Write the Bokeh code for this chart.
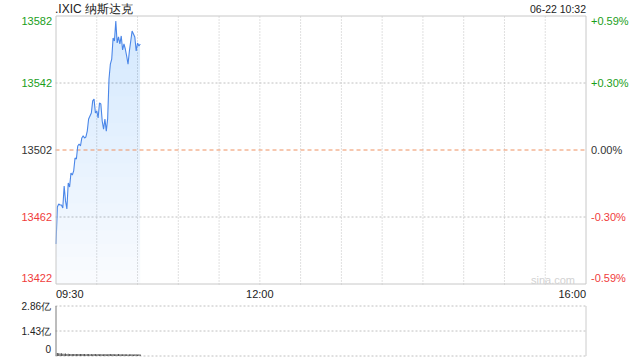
import numpy as np
from bokeh.plotting import figure
from bokeh.models import Range1d
from bokeh.core.properties import value
from bokeh.embed import file_html
from bokeh.resources import INLINE

# ---------------- data ----------------
title_text = ".IXIC 纳斯达克"
stamp_text = "06-22 10:32"
prev_close = 13502
minutes = list(range(63))  # minutes since 09:30
prices = [13445.9, 13468.0, 13469.8, 13469.2, 13469.2, 13467.4, 13480.5, 13471.6, 13466.8, 13482.3,
          13479.9, 13488.3, 13487.1, 13489.5, 13497.2, 13496.6, 13504.4, 13505.6, 13504.4, 13509.2,
          13510.4, 13509.2, 13509.8, 13513.3, 13520.5, 13522.3, 13524.1, 13531.3, 13532.4, 13524.1,
          13525.3, 13521.1, 13530.1, 13529.5, 13519.3, 13514.5, 13520.5, 13513.3, 13520.5, 13544.4,
          13553.3, 13556.3, 13568.9, 13567.1, 13579.0, 13565.9, 13569.5, 13565.3, 13570.1, 13561.7,
          13565.3, 13562.3, 13558.1, 13553.3, 13561.1, 13567.1, 13573.0, 13571.3, 13569.5, 13561.1,
          13565.9, 13564.1, 13565.3]
vol_minutes = list(range(62))
volumes = [0.17, 0.16, 0.15, 0.16, 0.13, 0.13, 0.14, 0.12, 0.13, 0.12,
           0.12, 0.11, 0.12, 0.11, 0.12, 0.11, 0.11, 0.12, 0.11, 0.11,
           0.11, 0.10, 0.11, 0.11, 0.10, 0.11, 0.10, 0.11, 0.11, 0.10,
           0.12, 0.10, 0.11, 0.10, 0.10, 0.11, 0.10, 0.10, 0.11, 0.11,
           0.10, 0.11, 0.10, 0.10, 0.10, 0.11, 0.10, 0.10, 0.10, 0.10,
           0.10, 0.10, 0.09, 0.10, 0.10, 0.10, 0.09, 0.10, 0.10, 0.09,
           0.10, 0.09]
price_ticks = [13582, 13542, 13502, 13462, 13422]
pct_labels = ["+0.59%", "+0.30%", "0.00%", "-0.30%", "-0.59%"]
tick_colors = ["#1a9e1a", "#1a9e1a", "#333333", "#f03c3c", "#f03c3c"]
time_ticks = [0, 150, 390]
time_labels = ["09:30", "12:00", "16:00"]
time_aligns = ["left", "center", "right"]
grid_minutes = list(range(30, 390, 30))
vol_max = 2.86
vol_ticks = [2.86, 1.43, 0]
vol_labels = ["2.86亿", "1.43亿", "0"]

FONT = value("Liberation Sans")
X0, X1 = 0, 390
Y0, Y1 = price_ticks[-1], price_ticks[0]
W, H = 640, 360
# pixel layout: main x 55..585, price ticks every 67 px (15.5 .. 283.5); volume 305..355
dx = (X1 - X0) / 530
dy = (price_ticks[0] - price_ticks[1]) / 67
vdy = vol_max / 50

p = figure(width=W, height=H, output_backend="svg", toolbar_location=None,
           x_range=Range1d(X0 - 55.5 * dx, X1 + 54.5 * dx),
           y_range=Range1d(Y0 - 76.5 * dy, Y1 + 15.5 * dy),
           x_axis_type=None, y_axis_type=None, min_border=0)
p.extra_y_ranges = {"vol": Range1d(-4.5 * vdy, vol_max + 305.5 * vdy)}
p.outline_line_color = None
p.background_fill_color = "white"
p.border_fill_color = "white"

GRID = "#c0c0c0"
hx0, hx1 = X0 - 0.5 * dx, X1 + 0.5 * dx
vy0, vy1 = Y0 - 0.5 * dy, Y1 + 0.5 * dy

# ---- main chart grid ----
n = len(grid_minutes)
p.segment(x0=grid_minutes, y0=[vy0] * n, x1=grid_minutes, y1=[vy1] * n,
          line_color=GRID, line_dash="1 2", line_width=1)
mid_ticks = [price_ticks[1], price_ticks[3]]
p.segment(x0=[hx0] * 2, y0=mid_ticks, x1=[hx1] * 2, y1=mid_ticks,
          line_color=GRID, line_dash="2 2", line_width=1)

# ---- gradient fill under line ----
pr = np.array(prices)
levels = np.linspace(Y0, Y1, 21)[:-1]
for i, L in enumerate(levels):
    p.varea(x=minutes, y1=np.maximum(pr, L), y2=np.full_like(pr, L),
            fill_color="#3a86ee", fill_alpha=(0.03 if i == 0 else 0.012))

# previous close
p.segment(x0=[hx0], y0=[prev_close], x1=[hx1], y1=[prev_close],
          line_color="#ee9060", line_dash="4 3", line_width=1)

p.line(minutes, prices, line_color="#4a86e8", line_width=1.1)

# frame box
p.quad(left=[X0], right=[X1], bottom=[Y0], top=[Y1], fill_color=None, line_color="#c8c8c8", line_width=1)

# ---- tick labels ----
label_y = list(price_ticks)
label_y[0] = price_ticks[0] - 4.5 * dy
label_y[-1] = price_ticks[-1] + 6.5 * dy
p.text(x=[X0 - 4 * dx] * 5, y=label_y, text=[str(t) for t in price_ticks],
       text_color=tick_colors, text_align="right", text_baseline="middle",
       text_font=FONT, text_font_size="11px")
p.text(x=[X1 + 5 * dx] * 5, y=label_y, text=pct_labels,
       text_color=tick_colors, text_align="left", text_baseline="middle",
       text_font=FONT, text_font_size="11px")
for t, lab, al in zip(time_ticks, time_labels, time_aligns):
    p.text(x=[t], y=[Y0 - 9.5 * dy], text=[lab], text_color="#222222", text_align=al,
           text_baseline="middle", text_font=FONT, text_font_size="11px")

p.text(x=[X0 - 1 * dx], y=[Y1 + 7.5 * dy], text=[title_text], text_color="#222222",
       text_align="left", text_baseline="middle", text_font=FONT, text_font_size="12px")
p.text(x=[X1], y=[Y1 + 7.5 * dy], text=[stamp_text], text_color="#222222",
       text_align="right", text_baseline="middle", text_font=FONT, text_font_size="10.5px")
p.text(x=[X1 - 11 * dx], y=[Y0 + 4.5 * dy], text=["sina.com"], text_color="#d2d2d2",
       text_align="right", text_baseline="middle", text_font=FONT, text_font_size="11px")

# ---- volume chart ----
p.segment(x0=[hx0] * 3, y0=vol_ticks, x1=[hx1] * 3, y1=vol_ticks, y_range_name="vol",
          line_color=GRID, line_dash="2 2", line_width=1)
p.segment(x0=[X0], y0=[0], x1=[X0], y1=[vol_max], y_range_name="vol",
          line_color="#7a7a7a", line_width=1)
p.segment(x0=[X1], y0=[0], x1=[X1], y1=[vol_max], y_range_name="vol",
          line_color="#cccccc", line_width=1)
p.vbar(x=[m + 1.0 for m in vol_minutes], top=volumes, bottom=0, width=0.8,
       y_range_name="vol", fill_color="#555555", line_color=None)

vol_label_y = [vol_ticks[0], vol_ticks[1], vol_ticks[2] + 7 * vdy]
p.text(x=[X0 - 5 * dx] * 3, y=vol_label_y, text=vol_labels, y_range_name="vol",
       text_color="#222222", text_align="right", text_baseline="middle",
       text_font=FONT, text_font_size="10px")

open("out.html", "w").write(file_html(p, INLINE))
